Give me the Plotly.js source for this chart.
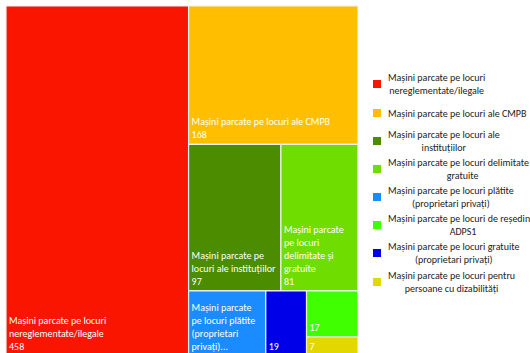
<!DOCTYPE html>
<html>
<head>
<meta charset="utf-8">
<script src="https://cdn.plot.ly/plotly-3.0.1.min.js"></script>
<style>html,body{margin:0;padding:0;overflow:hidden;background:#fff}</style>
</head>
<body>
<div id="chart" style="width:530px;height:360px"></div>
<script>
const categories = [
  "Mașini parcate pe locuri nereglementate/ilegale",
  "Mașini parcate pe locuri ale CMPB",
  "Mașini parcate pe locuri ale instituțiilor",
  "Mașini parcate pe locuri delimitate și gratuite",
  "Mașini parcate pe locuri plătite (proprietari privați)",
  "Mașini parcate pe locuri de reședință ADPS1",
  "Mașini parcate pe locuri gratuite (proprietari privați)",
  "Mașini parcate pe locuri pentru persoane cu dizabilități"
];
const values = [458, 168, 97, 81, 36, 17, 19, 7];
const colors = ["#F91500", "#FFBF00", "#4C8C00", "#70DD00", "#1A8CFF", "#40FF00", "#0000E8", "#E3D700"];
const legendLabels = [
  "Mașini parcate pe locuri<br>nereglementate/ilegale",
  "Mașini parcate pe locuri ale CMPB",
  "Mașini parcate pe locuri ale<br>instituțiilor",
  "Mașini parcate pe locuri delimitate și<br>gratuite",
  "Mașini parcate pe locuri plătite<br>(proprietari privați)",
  "Mașini parcate pe locuri de reședință<br>ADPS1",
  "Mașini parcate pe locuri gratuite<br>(proprietari privați)",
  "Mașini parcate pe locuri pentru<br>persoane cu dizabilități"
];
const boxLabels = [
  "Mașini parcate pe locuri<br>nereglementate/ilegale",
  "Mașini parcate pe locuri ale CMPB",
  "Mașini parcate pe<br>locuri ale instituțiilor",
  "Mașini parcate<br>pe locuri<br>delimitate și<br>gratuite",
  "Mașini parcate<br>pe locuri plătite<br>(proprietari<br>privați)...",
  "", "", ""
];
const showValue = [true, true, true, true, false, true, true, true];

const FONT = "Carlito, 'Liberation Sans Narrow', 'DejaVu Sans Condensed', sans-serif";
const H = 360;

const boxText = categories.map((c, i) => {
  const parts = [];
  if (boxLabels[i]) parts.push(boxLabels[i]);
  if (showValue[i]) parts.push(String(values[i]));
  return parts.join("<br>");
});

const trace = {
  type: "treemap",
  labels: categories,
  parents: categories.map(() => ""),
  values: values,
  text: boxText,
  texttemplate: "%{text}",
  textposition: "bottom left",
  textfont: {family: FONT, size: 10, color: "#ffffff"},
  marker: {colors: colors, line: {color: "#f0f0f0", width: 1.2}, pad: {t: 0, l: 0, r: 0, b: 0}},
  tiling: {packing: "squarify", squarifyratio: 1, pad: 0},
  pathbar: {visible: false},
  sort: true,
  hoverinfo: "label+value",
  domain: {x: [6 / 530, 358 / 530], y: [(H - 356) / H, (H - 6) / H]}
};

const legendY = [84, 113, 141, 169, 197, 225, 253, 282];
const shapes = [];
const annotations = [];
legendLabels.forEach((lab, i) => {
  const yc = legendY[i];
  shapes.push({
    type: "rect", xref: "paper", yref: "paper",
    x0: 373 / 530, x1: 381 / 530,
    y0: 1 - (yc + 4) / H, y1: 1 - (yc - 4) / H,
    fillcolor: colors[i], line: {width: 0}
  });
  annotations.push({
    xref: "paper", yref: "paper",
    x: 386 / 530, y: 1 - yc / H,
    xanchor: "left", yanchor: "middle",
    align: "center", showarrow: false,
    text: lab,
    font: {family: FONT, size: 10, color: "#222222"}
  });
});

const layout = {
  width: 530, height: H,
  margin: {l: 0, r: 0, t: 0, b: 0},
  paper_bgcolor: "#ffffff",
  showlegend: false,
  uniformtext: {mode: "show", minsize: 10},
  shapes: shapes,
  annotations: annotations
};

Plotly.newPlot("chart", [trace], layout, {displayModeBar: false, staticPlot: true});
</script>
</body>
</html>
